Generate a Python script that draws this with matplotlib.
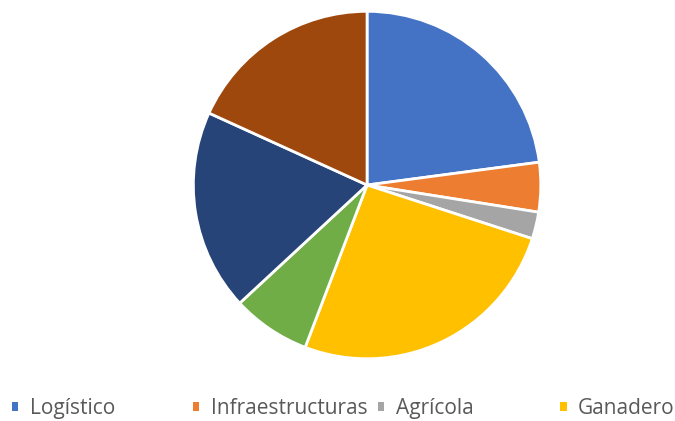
import matplotlib.pyplot as plt
from matplotlib.patches import Rectangle

# slice shares (%), clockwise from the top
values = [22.9, 4.6, 2.5, 25.8, 7.3, 18.7, 18.2]
colors = ["#4472C4", "#ED7D31", "#A5A5A5", "#FFC000", "#70AD47", "#264478", "#9E480E"]

# only the first four entries of the legend are visible in the original
legend_labels = ["Logístico", "Infraestructuras", "Agrícola", "Ganadero"]
legend_x = [0.0178, 0.286, 0.560, 0.830]


def main():
    plt.rcParams["font.family"] = ["Open Sans", "DejaVu Sans"]
    fig = plt.figure(figsize=(6.75, 4.21), dpi=100)
    ax = fig.add_axes([0.289, 0.152, 0.5096, 0.817])

    ax.pie(values, colors=colors, startangle=90, counterclock=False,
           wedgeprops={"edgecolor": "white", "linewidth": 2})
    ax.set_aspect("equal")
    ax.set_xlim(-0.99, 0.99)
    ax.set_ylim(-0.99, 0.99)

    for i in range(len(legend_labels)):
        handle = Rectangle((0, 0), 1, 1, facecolor=colors[i], edgecolor="none")
        leg = fig.legend(handles=[handle], labels=[legend_labels[i]],
                         loc="center left", bbox_to_anchor=(legend_x[i], 0.029),
                         frameon=False, fontsize=15, handlelength=0.3,
                         handleheight=0.3, handletextpad=0.55,
                         borderaxespad=0, borderpad=0)
        for text in leg.get_texts():
            text.set_color("#595959")

    fig.savefig("out.png", dpi=100)


if __name__ == "__main__":
    main()
